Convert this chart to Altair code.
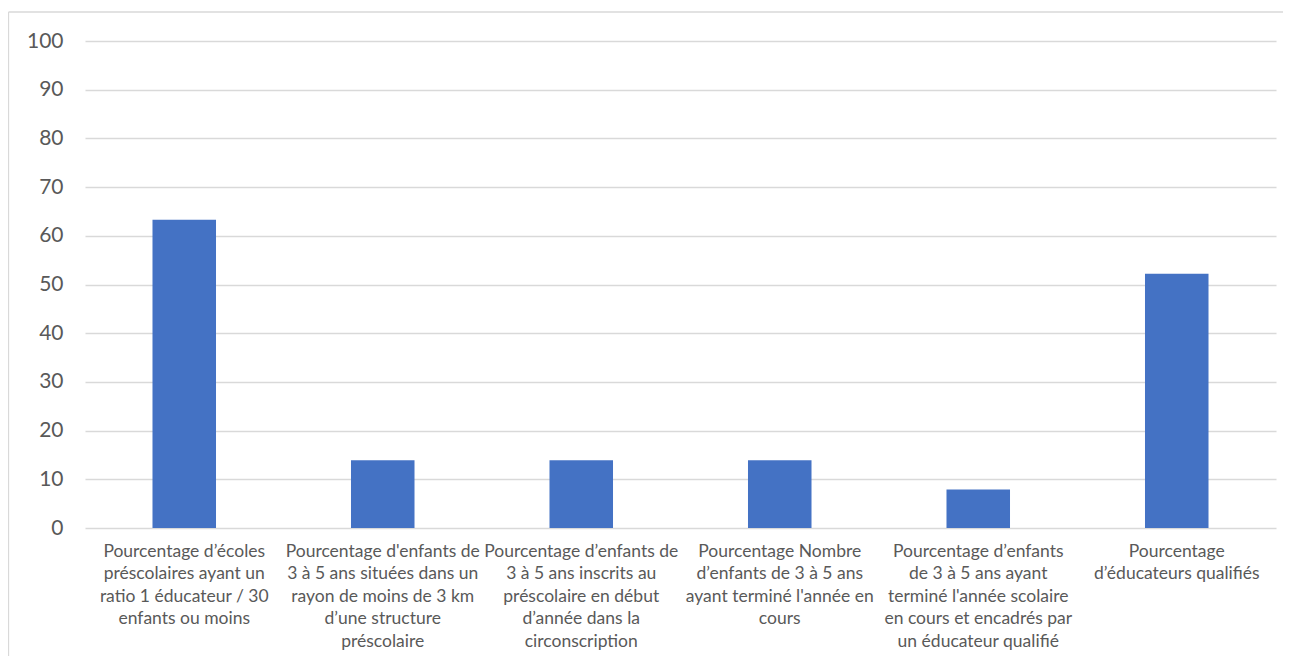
import altair as alt
import pandas as pd

categories = [
    "Pourcentage d’écoles|préscolaires ayant un|ratio 1 éducateur  / 30|enfants ou moins",
    "Pourcentage d'enfants de|3 à 5 ans situées dans un|rayon de moins de 3 km|d’une structure|préscolaire",
    "Pourcentage d’enfants de|3 à 5 ans inscrits au|préscolaire en début|d’année dans la|circonscription",
    "Pourcentage Nombre|d’enfants de 3 à 5 ans|ayant terminé l'année en|cours",
    "Pourcentage  d’enfants|de 3 à 5 ans ayant|terminé l'année scolaire|en cours et encadrés par|un éducateur qualifié",
    "Pourcentage|d’éducateurs qualifiés",
]
values = [63.3, 13.9, 13.9, 13.9, 7.9, 52.2]
y_ticks = [0, 10, 20, 30, 40, 50, 60, 70, 80, 90, 100]

df = pd.DataFrame({"cat": categories, "val": values})

FONT = "Lato"
TXT = "#595959"
GRID = "#D9D9D9"

bars = alt.Chart(df).mark_bar(color="#4472C4").encode(
    x=alt.X(
        "cat:N",
        sort=categories,
        title=None,
        scale=alt.Scale(paddingInner=0.68, paddingOuter=0.34),
        axis=alt.Axis(
            labelExpr="split(datum.value, '|')",
            labelAngle=0,
            labelLimit=0,
            labelFontSize=17.5,
            labelLineHeight=22.5,
            labelColor=TXT,
            labelFont=FONT,
            labelPadding=14,
            ticks=False,
            domain=False,
            grid=False,
        ),
    ),
    y=alt.Y(
        "val:Q",
        title=None,
        scale=alt.Scale(domain=[0, 100], nice=False),
        axis=alt.Axis(
            values=y_ticks,
            labelFontSize=21,
            labelColor=TXT,
            labelFont=FONT,
            labelPadding=22,
            ticks=False,
            domain=False,
            grid=True,
            gridColor=GRID,
            gridWidth=1.4,
        ),
    ),
)

border_data = alt.Data(values=[{"a": 1}])
top_border = alt.Chart(border_data).mark_rule(color=GRID, strokeWidth=1.3).encode(
    x=alt.value(-76.5), x2=alt.value(1210), y=alt.value(-29)
)
left_border = alt.Chart(border_data).mark_rule(color=GRID, strokeWidth=1.3).encode(
    x=alt.value(-76.5), y=alt.value(-29), y2=alt.value(700)
)

chart = (
    alt.layer(bars, top_border, left_border)
    .properties(
        width=1191,
        height=487,
        padding={"left": 77, "top": 33, "right": 7, "bottom": 128},
        autosize=alt.AutoSizeParams(type="none"),
        view=alt.ViewBackground(stroke="transparent", strokeWidth=0),
    )
    .configure_axis(domain=False, ticks=False)
    .configure(background="white")
)

chart.save("out.html", embed_options={"renderer": "svg", "actions": False})
